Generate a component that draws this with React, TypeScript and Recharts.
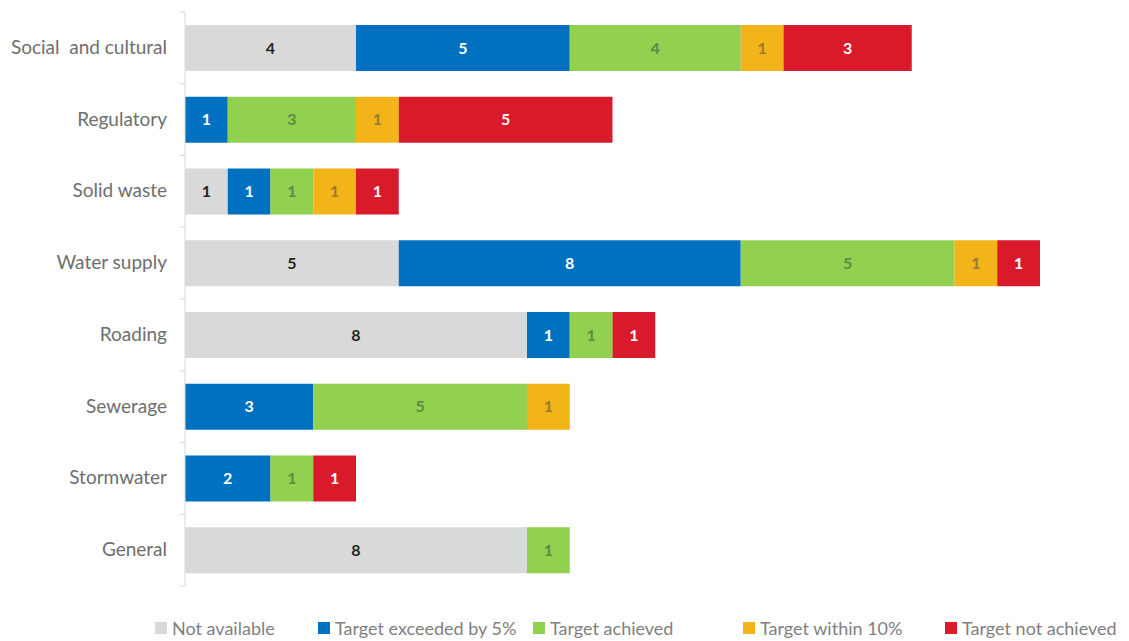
import React from 'react';
import { BarChart, Bar, XAxis, YAxis, LabelList } from 'recharts';

const categories = ['Social\u00a0\u00a0and cultural', 'Regulatory', 'Solid waste', 'Water supply', 'Roading', 'Sewerage', 'Stormwater', 'General'];
const notAvailable = [4, 0, 1, 5, 8, 0, 0, 8];
const exceeded = [5, 1, 1, 8, 1, 3, 2, 0];
const achieved = [4, 3, 1, 5, 1, 5, 1, 1];
const within = [1, 1, 1, 1, 0, 1, 0, 0];
const notAchieved = [3, 5, 1, 1, 1, 0, 1, 0];

const series = [
    { key: 'na', name: 'Not available', values: notAvailable, fill: '#d9d9d9', label: '#262626' },
    { key: 'ex', name: 'Target exceeded by 5%', values: exceeded, fill: '#0070c0', label: '#ffffff' },
    { key: 'ach', name: 'Target achieved', values: achieved, fill: '#92d050', label: '#5f8a45' },
    { key: 'w10', name: 'Target within 10%', values: within, fill: '#f2b418', label: '#9a7a30' },
    { key: 'nach', name: 'Target not achieved', values: notAchieved, fill: '#d91a2a', label: '#ffffff' }
];

const data = categories.map((name, i) => {
    const row: any = { name };
    series.forEach(s => { row[s.key] = s.values[i]; });
    return row;
});

const W = 1129;
const H = 641;
const margin = { top: 12, right: 89, left: 0, bottom: 55 };
const band = (H - margin.top - margin.bottom) / categories.length;
const font = 'Lato, "Open Sans", sans-serif';
const legendSlots = [163, 215, 210, 202, 180];

const CatTick = (props: any) => {
    const { x, y, payload, index } = props;
    return (
        <g>
            <line x1={x + 13} x2={x + 18} y1={y - band / 2} y2={y - band / 2} stroke="#d9d9d9" />
            {index === categories.length - 1 && (
                <line x1={x + 13} x2={x + 18} y1={y + band / 2} y2={y + band / 2} stroke="#d9d9d9" />
            )}
            <text x={x} y={y} dy={6} textAnchor="end" fill="#6e6e6e" fontSize={19} fontFamily={font}>
                {payload.value}
            </text>
        </g>
    );
};

const ChartLegend = () => (
    <div style={{ position: 'absolute', left: 0, top: 617, width: W, display: 'flex', paddingLeft: 155, fontFamily: font, fontSize: 18, color: '#7f7f7f', whiteSpace: 'nowrap' }}>
        {series.map((s, i) => (
            <div key={s.key} style={{ display: 'flex', alignItems: 'center', width: legendSlots[i] }}>
                <span style={{ display: 'inline-block', width: 12, height: 12, background: s.fill, marginRight: 5 }} />
                {s.name}
            </div>
        ))}
    </div>
);

export default function App() {
    return (
        <div style={{ position: 'absolute', left: 0, top: 0, width: W, height: H, background: '#fff' }}>
            <BarChart width={W} height={H} data={data} layout="vertical" margin={margin} barCategoryGap="18%">
                <XAxis type="number" domain={[0, 20]} hide />
                <YAxis
                    type="category"
                    dataKey="name"
                    width={185}
                    axisLine={{ stroke: '#d9d9d9' }}
                    tickLine={false}
                    tick={<CatTick />}
                    tickMargin={12}
                />
                {series.map(s => (
                    <Bar key={s.key} dataKey={s.key} name={s.name} stackId="a" fill={s.fill} isAnimationActive={false}>
                        <LabelList
                            dataKey={s.key}
                            position="center"
                            formatter={(v: any) => (v ? v : '')}
                            fill={s.label}
                            fontSize={16}
                            fontWeight="bold"
                            fontFamily={font}
                        />
                    </Bar>
                ))}
            </BarChart>
            <ChartLegend />
        </div>
    );
}
